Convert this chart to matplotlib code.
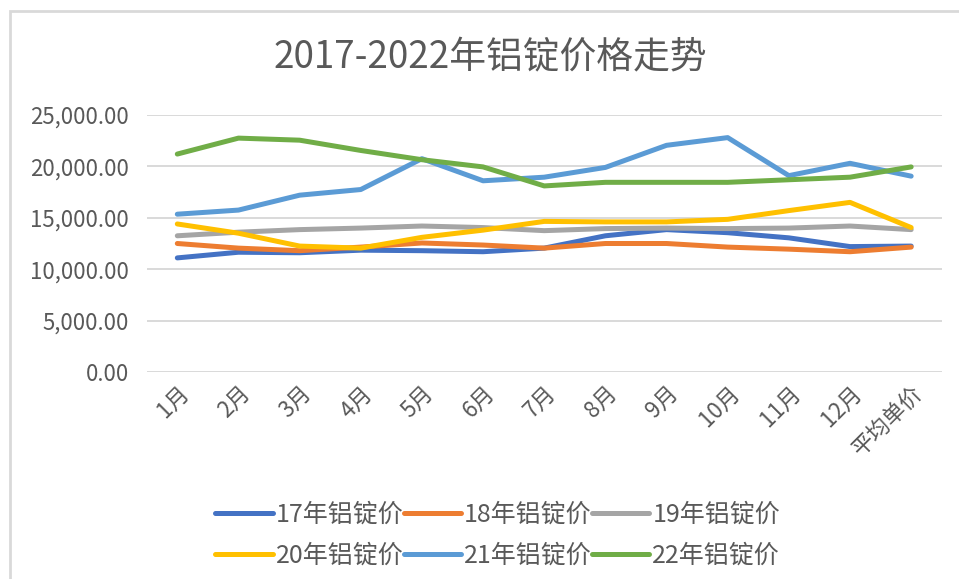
import matplotlib
matplotlib.use("Agg")
import matplotlib.pyplot as plt
from matplotlib.patches import Rectangle
from matplotlib.ticker import FuncFormatter

plt.rcParams['font.family'] = ['Noto Sans CJK SC', 'DejaVu Sans']

months = ["1月", "2月", "3月", "4月", "5月", "6月", "7月", "8月", "9月",
          "10月", "11月", "12月", "平均单价"]

price_17 = [11100, 11650, 11600, 11850, 11800, 11700, 12050, 13250, 13850, 13550, 13050, 12200, 12250]
price_18 = [12500, 12050, 11800, 12150, 12550, 12350, 12050, 12500, 12500, 12150, 11950, 11700, 12150]
price_19 = [13250, 13600, 13850, 14000, 14200, 14050, 13750, 13950, 14000, 13950, 14000, 14200, 13850]
price_20 = [14400, 13500, 12250, 12050, 13100, 13800, 14650, 14600, 14600, 14850, 15700, 16500, 14050]
price_21 = [15350, 15750, 17200, 17750, 20750, 18600, 18950, 19900, 22050, 22800, 19100, 20300, 19050]
price_22 = [21200, 22750, 22550, 21550, 20650, 19950, 18100, 18450, 18450, 18450, 18700, 18950, 19950]

series = [
    ("17年铝锭价", price_17, "#4472C4"),
    ("18年铝锭价", price_18, "#ED7D31"),
    ("19年铝锭价", price_19, "#A5A5A5"),
    ("20年铝锭价", price_20, "#FFC000"),
    ("21年铝锭价", price_21, "#5B9BD5"),
    ("22年铝锭价", price_22, "#70AD47"),
]

fig = plt.figure(figsize=(9.59, 5.79), dpi=100)
ax = fig.add_axes([0.153, 0.3575, 0.829, 0.4439])

x = range(len(months))
lines = []
for name, vals, col in series:
    ln, = ax.plot(x, vals, color=col, linewidth=3.6, label=name, solid_capstyle='round')
    lines.append(ln)

ax.set_xlim(-0.5, len(months) - 0.5)
ax.set_ylim(0, 25000)
ax.set_yticks(range(0, 25001, 5000))
ax.yaxis.set_major_formatter(FuncFormatter(lambda v, p: f"{v:,.2f}"))
ax.set_xticks(list(x))
ax.set_xticklabels(months, rotation=45, ha='right', rotation_mode='anchor')
ax.grid(axis='y', color='#D9D9D9', linewidth=1.4)
ax.set_axisbelow(True)
for s in ax.spines.values():
    s.set_visible(False)
ax.tick_params(length=0, colors='#595959', labelsize=16)
ax.tick_params(axis='y', pad=13)
ax.tick_params(axis='x', pad=7)

fig.text(0.511, 0.9, "2017-2022年铝锭价格走势", ha='center', va='center',
         fontsize=26.5, color='#595959')

# legend is filled row by row in the reference, matplotlib goes column by column
order = [0, 3, 1, 4, 2, 5]
leg = fig.legend([lines[i] for i in order], [series[i][0] for i in order],
                 loc='center', bbox_to_anchor=(0.519, 0.076), ncol=3, frameon=False,
                 fontsize=18, handlelength=2.3, handletextpad=0.12,
                 columnspacing=0.0, labelspacing=0.6, borderpad=0)
for t in leg.get_texts():
    t.set_color('#595959')

frame = Rectangle((10 / 959, -0.1), 1.2, 1 - 11 / 579 + 0.1, transform=fig.transFigure,
                  fill=False, edgecolor='#D9D9D9', linewidth=2)
fig.patches.append(frame)

fig.savefig("out.png", dpi=100)
